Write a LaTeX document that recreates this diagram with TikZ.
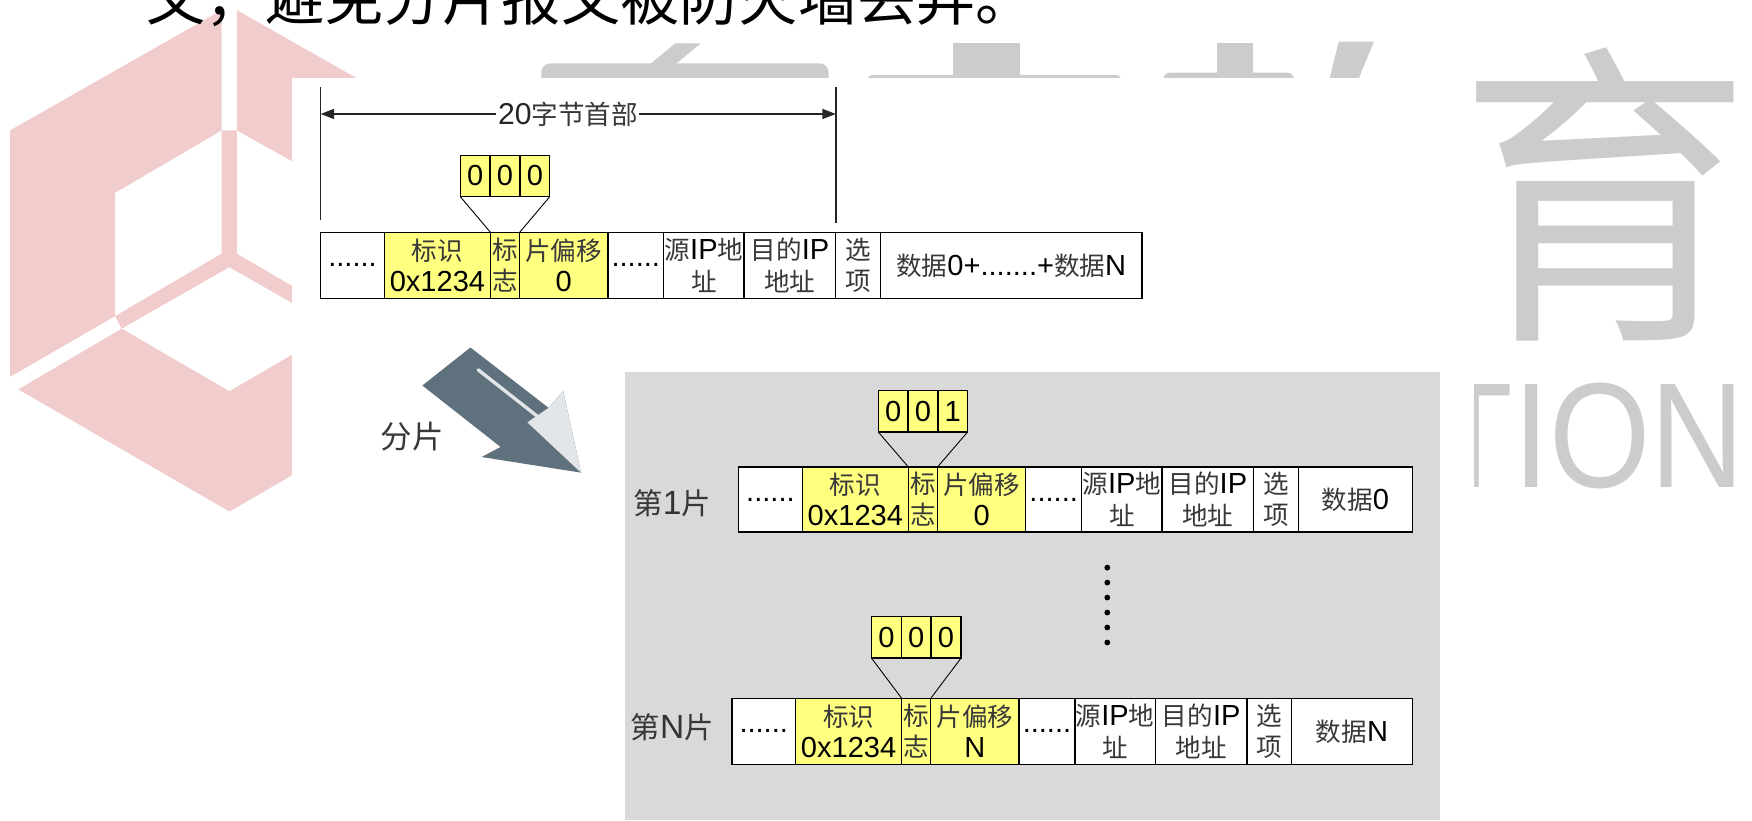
\documentclass[tikz,border=0pt]{standalone}
\usepackage{fontspec}
\usepackage{graphicx}
\setmainfont{Liberation Sans}
\newfontfamily\zhfont{Noto Sans CJK SC}[Scale=0.88]
\newfontfamily\bigzh{Noto Sans CJK SC}
\usetikzlibrary{arrows.meta}

\definecolor{wmpink}{RGB}{241,204,205}
\definecolor{wmgray}{RGB}{204,204,204}
\definecolor{fieldyellow}{RGB}{255,255,128}
\definecolor{panelgray}{RGB}{217,217,217}
\definecolor{arrowslate}{RGB}{96,113,126}
\definecolor{arrowlight}{RGB}{226,230,233}

\newcommand{\zh}[1]{{\zhfont\color{black!78}#1}}

\tikzset{
  field/.style={draw=black, line width=1.2pt, inner sep=0pt, outer sep=0pt,
    align=center, fill=white, font=\fontsize{26}{28}\selectfont},
  hdrfield/.style={field, fill=fieldyellow},
  bitbox/.style={field, fill=fieldyellow, minimum width=26.7, minimum height=37},
  fanline/.style={line width=0.8pt},
  dimline/.style={line width=1.3pt, black!85},
  rowlabel/.style={font=\fontsize{30}{30}\selectfont, text=black!80},
}

\begin{document}
\begin{tikzpicture}[x=1pt, y=-1pt]
\useasboundingbox (0,0) rectangle (1568,734);

% logo behind the page
\fill[wmpink] (198.4,9) -- (9,116.7) -- (9,337.3) -- (103,282.9) -- (103,172.6) -- (198.4,116.7) -- cycle;
\fill[wmpink] (211.9,9) -- (401.6,116.7) -- (401.6,222.5) -- (211.9,116.7) -- cycle;
\fill[wmpink] (198.4,116.7) -- (211.9,116.7) -- (211.9,227) -- (307.7,282.9) -- (301.7,294.1)
  -- (205.3,239.1) -- (108.9,294.1) -- (103,282.9) -- (198.4,227) -- cycle;
\fill[wmpink] (16.4,348.5) -- (108.9,294.1) -- (205.3,350.1) -- (301.7,294.1) -- (394.2,348.5) -- (205.3,457.8) -- cycle;

% grey lettering behind the page
\fill[wmgray, rounded corners=8pt] (484.5,56.7) rectangle (741.5,80);
\fill[wmgray] (604.3,38.8) -- (627.2,38.8) -- (601.5,60) -- (578.7,60) -- cycle;
\fill[wmgray, rounded corners=6pt] (775.6,67) rectangle (1004,80);
\fill[wmgray] (852.7,38.8) rectangle (912.7,70);
\fill[wmgray, rounded corners=6pt] (1041,65) rectangle (1158,80);
\fill[wmgray] (1089.6,38.8) rectangle (1121,70);
\fill[wmgray] (1198,37.3) -- (1229.6,37.3) -- (1215.3,72) -- (1189.6,72) -- cycle;
\node[anchor=base west, inner sep=0pt, text=wmgray, font=\bigzh\fontsize{262}{262}\selectfont] (wmyu) at (1305,282) {\scalebox{1}[1.08]{育}};
\node[anchor=base west, inner sep=0pt, text=wmgray, font=\fontsize{134}{134}\selectfont] (wmtion) at (1283,436) {\scalebox{0.87}[1]{TION}};

% the page itself
\fill[white] (261,70) rectangle (1319,734);
\node[anchor=base west, inner sep=0pt, font=\bigzh\fontsize{53}{53}\selectfont] (topline) at (131,18) {文，避免分片报文被防火墙丢弃。};
\fill[panelgray] (559.5,333) rectangle (1289,734);

% 20 byte header
\coordinate (hdLt) at (287,78);
\coordinate (hdLb) at (287,197);
\coordinate (hdRt) at (748,78);
\coordinate (hdRb) at (748,200);
\coordinate (hdL) at (287,102);
\coordinate (hdR) at (748,102);
\draw[dimline] (hdLt) -- (hdLb);
\draw[dimline] (hdRt) -- (hdRb);
\draw[dimline, {Triangle[length=12pt,width=9pt]}-{Triangle[length=12pt,width=9pt]}] (hdL) -- (hdR)
  node[pos=0.48, fill=white, inner sep=1.5pt, font=\fontsize{27}{27}\selectfont, text=black!85] (hdlabel) {20\zh{字节首部}};

% original datagram
\node[field, minimum width=57, minimum height=59] (r0a) at (315.5,237.5) {......};
\node[hdrfield, minimum width=95, minimum height=59] (r0id) at (391.5,237.5) {\zh{标识}\\0x1234};
\node[hdrfield, minimum width=26, minimum height=59] (r0flag) at (452,237.5) {\zh{标}\\\zh{志}};
\node[hdrfield, minimum width=79, minimum height=59] (r0off) at (504.5,237.5) {\zh{片偏移}\\0};
\node[field, minimum width=50, minimum height=59] (r0b) at (569,237.5) {......};
\node[field, minimum width=72, minimum height=59] (r0src) at (630,237.5) {\zh{源}IP\zh{地}\\\zh{址}};
\node[field, minimum width=82, minimum height=59] (r0dst) at (707,237.5) {\zh{目的}IP\\\zh{地址}};
\node[field, minimum width=40, minimum height=59] (r0opt) at (768,237.5) {\zh{选}\\\zh{项}};
\node[field, minimum width=234, minimum height=59] (r0data) at (905,237.5) {\zh{数据}0+.......+\zh{数据}N};

\node[bitbox] (f0a) at (425.3,157.5) {0};
\node[bitbox] (f0b) at (452,157.5) {0};
\node[bitbox] (f0c) at (478.7,157.5) {0};
\draw[fanline] (f0a.south west) -- (r0flag.north west);
\draw[fanline] (f0c.south east) -- (r0flag.north east);

% fragmenting arrow
\fill[arrowslate] (421,311) -- (491,365) -- (504,350) -- (520,423) -- (431,409) -- (448,400) -- (378,345) -- cycle;
\fill[arrowlight] (491,365) -- (504,350) -- (520,423) -- (472,378) -- cycle;
\draw[arrowlight, line width=3pt, line cap=round] (428,331) -- (484,375);
\node[font=\fontsize{32}{32}\selectfont] (splitlbl) at (369,391) {\zh{分片}};

% fragment 1
\node[rowlabel] (lbl1) at (601.6,450) {\zh{第}1\zh{片}};
\node[field, minimum width=57, minimum height=58] (r1a) at (689.5,447) {......};
\node[hdrfield, minimum width=95, minimum height=58] (r1id) at (765.5,447) {\zh{标识}\\0x1234};
\node[hdrfield, minimum width=26, minimum height=58] (r1flag) at (826,447) {\zh{标}\\\zh{志}};
\node[hdrfield, minimum width=79, minimum height=58] (r1off) at (878.5,447) {\zh{片偏移}\\0};
\node[field, minimum width=50, minimum height=58] (r1b) at (943,447) {......};
\node[field, minimum width=72, minimum height=58] (r1src) at (1004,447) {\zh{源}IP\zh{地}\\\zh{址}};
\node[field, minimum width=82, minimum height=58] (r1dst) at (1081,447) {\zh{目的}IP\\\zh{地址}};
\node[field, minimum width=40, minimum height=58] (r1opt) at (1142,447) {\zh{选}\\\zh{项}};
\node[field, minimum width=102, minimum height=58] (r1data) at (1213,447) {\zh{数据}0};

\node[bitbox] (f1a) at (799.3,368) {0};
\node[bitbox] (f1b) at (826,368) {0};
\node[bitbox] (f1c) at (852.7,368) {1};
\draw[fanline] (f1a.south west) -- (r1flag.north west);
\draw[fanline] (f1c.south east) -- (r1flag.north east);

% more fragments
\foreach \k in {0,...,5}
  \fill (991,508+13.4*\k) circle (2.6);

% fragment N
\node[rowlabel] (lblN) at (601.7,651) {\zh{第}N\zh{片}};
\node[field, minimum width=57, minimum height=59] (rNa) at (683.5,654.5) {......};
\node[hdrfield, minimum width=95, minimum height=59] (rNid) at (759.5,654.5) {\zh{标识}\\0x1234};
\node[hdrfield, minimum width=26, minimum height=59] (rNflag) at (820,654.5) {\zh{标}\\\zh{志}};
\node[hdrfield, minimum width=79, minimum height=59] (rNoff) at (872.5,654.5) {\zh{片偏移}\\N};
\node[field, minimum width=50, minimum height=59] (rNb) at (937,654.5) {......};
\node[field, minimum width=72, minimum height=59] (rNsrc) at (998,654.5) {\zh{源}IP\zh{地}\\\zh{址}};
\node[field, minimum width=82, minimum height=59] (rNdst) at (1075,654.5) {\zh{目的}IP\\\zh{地址}};
\node[field, minimum width=40, minimum height=59] (rNopt) at (1136,654.5) {\zh{选}\\\zh{项}};
\node[field, minimum width=108, minimum height=59] (rNdata) at (1210,654.5) {\zh{数据}N};

\node[bitbox] (fNa) at (793.3,570.5) {0};
\node[bitbox] (fNb) at (820,570.5) {0};
\node[bitbox] (fNc) at (846.7,570.5) {0};
\draw[fanline] (fNa.south west) -- (rNflag.north west);
\draw[fanline] (fNc.south east) -- (rNflag.north east);
\end{tikzpicture}
\end{document}
